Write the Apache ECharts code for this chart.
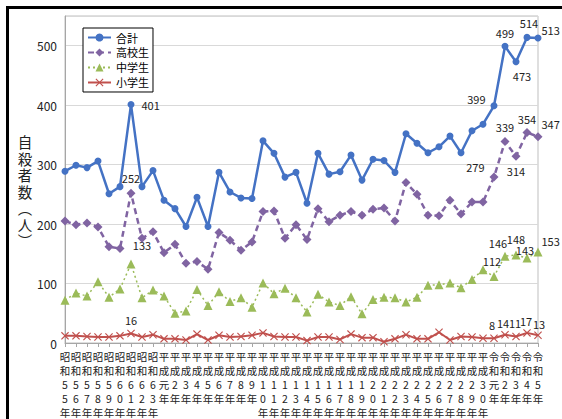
<!DOCTYPE html>
<html><head><meta charset="utf-8">
<script src="https://cdn.jsdelivr.net/npm/echarts@6/dist/echarts.min.js"></script>
<style>
html,body{margin:0;padding:0;background:#fff;}
#chart{width:562px;height:419px;position:absolute;left:0;top:0;}
#frame{position:absolute;left:6px;top:6px;right:0;bottom:0;border-top:3px solid #000;border-left:3px solid #000;pointer-events:none;}
</style></head><body>
<div id="chart"></div><div id="frame"></div>
<script>
const categories = ['昭和55年','昭和56年','昭和57年','昭和58年','昭和59年','昭和60年','昭和61年','昭和62年','昭和63年',
  '平成元年','平成2年','平成3年','平成4年','平成5年','平成6年','平成7年','平成8年','平成9年','平成10年',
  '平成11年','平成12年','平成13年','平成14年','平成15年','平成16年','平成17年','平成18年','平成19年','平成20年',
  '平成21年','平成22年','平成23年','平成24年','平成25年','平成26年','平成27年','平成28年','平成29年','平成30年',
  '令和元年','令和2年','令和3年','令和4年','令和5年'];
const seriesNames = ['合計','高校生','中学生','小学生'];
const total  = [289,299,295,306,251,263,401,263,290,240,226,196,245,196,287,254,244,243,340,319,279,287,235,319,284,288,316,274,309,307,287,352,336,320,330,348,320,357,368,399,499,473,514,513];
const high   = [205,199,202,195,162,159,252,176,187,152,166,134,137,124,186,173,156,170,221,222,176,199,174,226,204,215,221,215,225,227,205,270,250,215,214,240,217,237,237,279,339,314,354,347];
const middle = [72,84,79,103,77,91,133,76,89,79,50,54,90,63,86,70,76,60,101,83,92,76,52,82,69,63,78,49,73,77,76,69,77,97,98,101,93,107,123,112,146,148,143,153];
const elem   = [12,12,11,10,10,12,16,10,14,7,7,5,15,5,13,10,11,13,17,11,10,10,4,10,10,6,15,9,9,2,7,14,7,7,18,5,11,10,8,8,14,11,17,13];
const yTitleChars = ['自','殺','者','数','︵','人','︶'];

// which points carry a value label, and where
const labelPlacement = {
  total: {6:{position:'right',offset:[3,0]},39:{position:'left',offset:[-1,-7]},40:{position:'top',offset:[0,0]},
          41:{position:'bottom',offset:[6,1]},42:{position:'top',offset:[2,-1]},43:{position:'right',offset:[-4,-8]}},
  high:  {6:{position:'top',offset:[0,-1]},39:{position:'left',offset:[-1,-10]},40:{position:'top',offset:[0,0]},
          41:{position:'bottom',offset:[0,1]},42:{position:'top',offset:[0,0]},43:{position:'right',offset:[-5,-13]}},
  middle:{6:{position:'top',offset:[11,-5]},39:{position:'top',offset:[-2,-1]},40:{position:'top',offset:[-7,1]},
          41:{position:'top',offset:[0,-2]},42:{position:'top',offset:[-2,6]},43:{position:'right',offset:[-5,-11]}},
  elem:  {6:{position:'top',offset:[0,0]},39:{position:'top',offset:[-2,0]},40:{position:'top',offset:[-2,2]},
          41:{position:'top',offset:[-1,0]},42:{position:'top',offset:[-1,2]},43:{position:'top',offset:[1,2]}}
};

const FONT = '"Noto Sans CJK JP", "Noto Sans", sans-serif';
function build(values, placement){
  return values.map((v,i)=> placement[i] ? {value:v, label:Object.assign({show:true}, placement[i])} : v);
}
const xSymbol = 'path://M1,0 L5,4 L9,0 L10,1 L6,5 L10,9 L9,10 L5,6 L1,10 L0,9 L4,5 L0,1 Z';
const baseLabel = {show:false, fontSize:11, color:'#222', fontFamily:FONT, distance:4};

const titleGraphics = yTitleChars.map((c,i)=>({
  type:'text', x:25, y:134 + i*16.5,
  style:{text:c, fontSize:14.5, lineHeight:15, fill:'#222', align:'center', verticalAlign:'top', fontFamily:FONT}
}));

const chart = echarts.init(document.getElementById('chart'), null, {renderer:'svg'});
chart.setOption({
  backgroundColor:'#fff',
  animation:false,
  textStyle:{fontFamily:FONT},
  grid:{left:65, right:24, top:16, bottom:76, show:true, borderColor:'#bfbfbf', borderWidth:1},
  legend:{
    orient:'vertical', left:83, top:28, backgroundColor:'#fff', borderColor:'#000', borderWidth:1,
    padding:[4,4,4,4], itemGap:4, itemWidth:23, itemHeight:10,
    textStyle:{fontSize:11, color:'#000', fontFamily:FONT},
    data:seriesNames
  },
  xAxis:{
    type:'category', data:categories, boundaryGap:false,
    axisLine:{lineStyle:{color:'#a6a6a6'}},
    axisTick:{show:true, length:4, interval:0, lineStyle:{color:'#a6a6a6'}},
    axisLabel:{interval:0, fontSize:10.5, lineHeight:14, color:'#222', margin:6, fontFamily:FONT,
      formatter:(v)=>v.split('').join('\n')}
  },
  yAxis:{
    type:'value', min:0, max:550, interval:100,
    axisLine:{show:true, lineStyle:{color:'#a6a6a6'}},
    axisTick:{show:false},
    splitLine:{lineStyle:{color:'#d9d9d9'}},
    axisLabel:{fontSize:12, color:'#222', margin:8, showMaxLabel:false, fontFamily:FONT}
  },
  graphic:titleGraphics,
  series:[
    {name:seriesNames[0], type:'line', data:build(total,labelPlacement.total), symbol:'circle', symbolSize:7,
     itemStyle:{color:'#4472C4'}, lineStyle:{color:'#4472C4', width:2.5}, label:baseLabel, z:5},
    {name:seriesNames[1], type:'line', data:build(high,labelPlacement.high), symbol:'diamond', symbolSize:9,
     itemStyle:{color:'#8064A2'}, lineStyle:{color:'#8064A2', width:2.5, type:[6,4]}, label:baseLabel, z:4},
    {name:seriesNames[2], type:'line', data:build(middle,labelPlacement.middle), symbol:'triangle', symbolSize:9,
     itemStyle:{color:'#9BBB59'}, lineStyle:{color:'#9BBB59', width:1.5, type:[2,3]}, label:baseLabel, z:3},
    {name:seriesNames[3], type:'line', data:build(elem,labelPlacement.elem), symbol:xSymbol, symbolSize:8,
     itemStyle:{color:'#C0504D'}, lineStyle:{color:'#C0504D', width:2}, label:baseLabel, z:2}
  ]
});
</script>
</body></html>
